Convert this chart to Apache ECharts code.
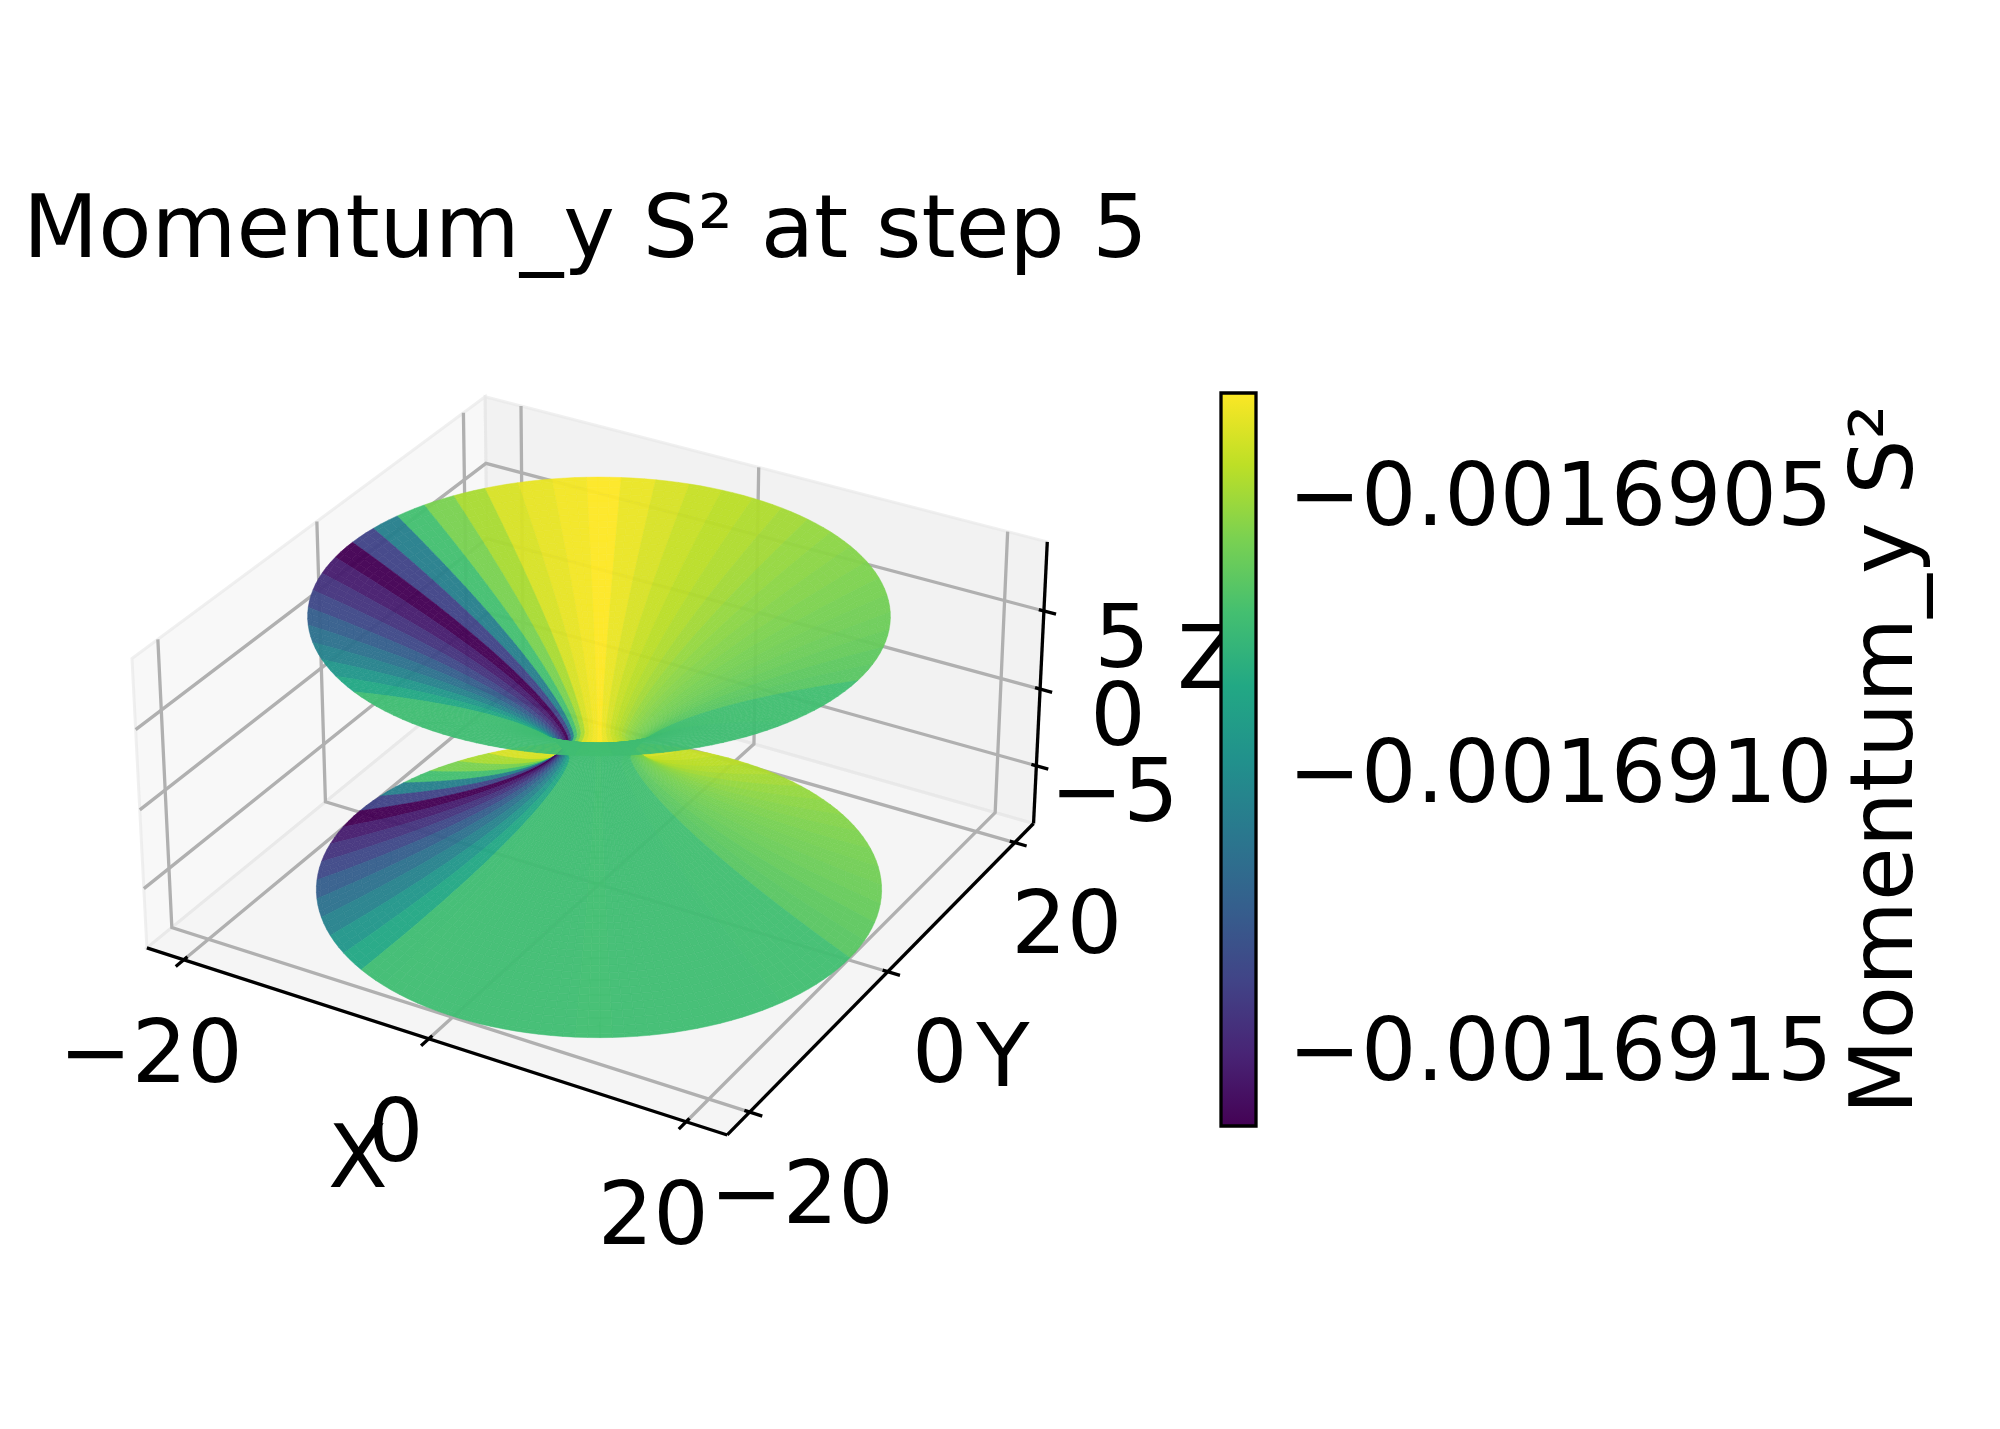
<!DOCTYPE html>
<html>
<head>
<meta charset="utf-8">
<style>
  html, body { margin: 0; padding: 0; background: #fff; }
  #chart { width: 2000px; height: 1429px; }
</style>
<script src="https://cdn.jsdelivr.net/npm/echarts@6/dist/echarts.min.js"></script>
</head>
<body>
<div id="chart"></div>
<script>
// Momentum_y per angular sector (sector 0 starts behind the throat, going left)
const sectorValues = [
  -0.001690338, -0.001690364, -0.001690397, -0.001690490, -0.001690582, -0.001690714, -0.001691071, -0.001691375,
  -0.001691639, -0.001691533, -0.001691441, -0.001691348, -0.001691243, -0.001691150, -0.001691058, -0.001690952,
  -0.001690846, -0.001690734, -0.001690727, -0.001690727, -0.001690727, -0.001690727, -0.001690727, -0.001690727,
  -0.001690721, -0.001690727, -0.001690727, -0.001690727, -0.001690727, -0.001690727, -0.001690721, -0.001690721,
  -0.001690721, -0.001690661, -0.001690648, -0.001690628, -0.001690615, -0.001690602, -0.001690589, -0.001690576,
  -0.001690563, -0.001690549, -0.001690529, -0.001690503, -0.001690477, -0.001690456, -0.001690430, -0.001690397,
  -0.001690358, -0.001690318
]
const firstSectorAngle = 122.6
const sectorStep = 7.2
const cellsPerSector = 3

// upper half of the surface, the lower half mirrors it
const ringHeight = [
  0, 0.2, 0.4, 0.6, 0.8, 1, 1.2, 1.4, 1.6, 1.8, 2, 2.2, 2.4, 2.6, 2.8, 3, 3.2, 3.4, 3.6, 3.8, 4, 4.2, 4.4,
  4.6, 4.8, 5, 5.2, 5.4, 5.6, 5.8, 6, 6.2, 6.4, 6.6, 6.8, 7, 7.2, 7.4, 7.6, 7.8, 8, 8.2, 8.4, 8.6, 8.7
]
const ringRadius = [
  2.5, 2.569, 2.69, 2.845, 3.027, 3.231, 3.456, 3.7, 3.96, 4.236, 4.527, 4.832, 5.15, 5.481, 5.824, 6.18,
  6.547, 6.923, 7.311, 7.71, 8.118, 8.536, 8.963, 9.4, 9.845, 10.299, 10.763, 11.235, 11.715, 12.203,
  12.7, 13.201, 13.714, 14.233, 14.76, 15.293, 15.835, 16.385, 16.938, 17.5, 18.067, 18.641, 19.228, 19.813, 20.1
]

const xTicks = [-20, 0, 20]
const yTicks = [-20, 0, 20]
const zTicks = [-5, 0, 5]
const xLim = [-23.1, 23.1]
const yLim = [-23.1, 23.1]
const zLim = [-8.82, 9.36]

const barMin = -0.001691639
const barMax = -0.001690318
const barTicks = [-0.0016915, -0.001691, -0.0016905]
const viridis = ['#440154', '#482475', '#414487', '#355f8d', '#2a788e', '#21918c', '#22a884', '#44bf70', '#7ad151', '#bddf26', '#fde725']

const FONT = '"DejaVu Sans"'
const LABEL_SIZE = 87.2
const GRID_COLOR = '#b0b0b0'
const LINE_W = 3.3

// same camera as a default mplot3d view: elev 30, azim -60, box aspect 1:1:0.5
const HALF_BOX = [0.635, 0.635, 0.3175]
const DIST = 10
const U = [0.8660254, 0.5, 0]
const V = [-0.25, 0.4330127, 0.8660254]
const W = [0.4330127, -0.75, 0.5]
const PIXEL_SCALE = 5190
const ORIGIN_X = 599
const ORIGIN_Y = 744

function boxPoint(x, y, z) {
  const nx = (x - (xLim[0] + xLim[1]) / 2) / ((xLim[1] - xLim[0]) / 2)
  const ny = (y - (yLim[0] + yLim[1]) / 2) / ((yLim[1] - yLim[0]) / 2)
  const nz = (z - (zLim[0] + zLim[1]) / 2) / ((zLim[1] - zLim[0]) / 2)
  return [nx * HALF_BOX[0], ny * HALF_BOX[1], nz * HALF_BOX[2]]
}
function dot(a, b) {
  return a[0] * b[0] + a[1] * b[1] + a[2] * b[2]
}
function depth(x, y, z) {
  return DIST - dot(boxPoint(x, y, z), W)
}
function project(x, y, z) {
  const q = boxPoint(x, y, z)
  const d = DIST - dot(q, W)
  return [dot(q, U) / d, dot(q, V) / d]
}

// rings from bottom rim to top rim
const rings = []
for (let i = ringHeight.length - 1; i > 0; i--) rings.push([-ringHeight[i], ringRadius[i]])
for (let i = 0; i < ringHeight.length; i++) rings.push([ringHeight[i], ringRadius[i]])

function cellCorners(column, ring) {
  const step = sectorStep / cellsPerSector
  const a0 = (firstSectorAngle + column * step) * Math.PI / 180
  const a1 = (firstSectorAngle + (column + 1) * step) * Math.PI / 180
  const lo = rings[ring]
  const hi = rings[ring + 1]
  return [
    [lo[1] * Math.cos(a0), lo[1] * Math.sin(a0), lo[0]],
    [lo[1] * Math.cos(a1), lo[1] * Math.sin(a1), lo[0]],
    [hi[1] * Math.cos(a1), hi[1] * Math.sin(a1), hi[0]],
    [hi[1] * Math.cos(a0), hi[1] * Math.sin(a0), hi[0]]
  ]
}

const cells = []
for (let s = 0; s < sectorValues.length; s++) {
  for (let k = 0; k < cellsPerSector; k++) {
    const column = s * cellsPerSector + k
    for (let r = 0; r < rings.length - 1; r++) {
      const c = cellCorners(column, r)
      const meanX = (c[0][0] + c[1][0] + c[2][0] + c[3][0]) / 4
      const meanY = (c[0][1] + c[1][1] + c[2][1] + c[3][1]) / 4
      const meanZ = (c[0][2] + c[1][2] + c[2][2] + c[3][2]) / 4
      cells.push([column, r, sectorValues[s], depth(meanX, meanY, meanZ)])
    }
  }
}
cells.sort((a, b) => b[3] - a[3])

const [x0, x1] = xLim
const [y0, y1] = yLim
const [z0, z1] = zLim
const panes = [
  { fill: 'rgba(242,242,242,0.5)', pts: [[x0, y0, z0], [x0, y1, z0], [x0, y1, z1], [x0, y0, z1]] },
  { fill: 'rgba(230,230,230,0.5)', pts: [[x0, y1, z0], [x1, y1, z0], [x1, y1, z1], [x0, y1, z1]] },
  { fill: 'rgba(236,236,236,0.5)', pts: [[x0, y0, z0], [x1, y0, z0], [x1, y1, z0], [x0, y1, z0]] }
]

const gridPaths = []
xTicks.forEach(t => gridPaths.push([[t, y0, z0], [t, y1, z0], [t, y1, z1]]))
yTicks.forEach(t => gridPaths.push([[x1, t, z0], [x0, t, z0], [x0, t, z1]]))
zTicks.forEach(t => gridPaths.push([[x0, y0, t], [x0, y1, t], [x1, y1, t]]))

const axisPaths = [
  [[x0, y0, z0], [x1, y0, z0]],
  [[x1, y0, z0], [x1, y1, z0]],
  [[x1, y1, z0], [x1, y1, z1]]
]
xTicks.forEach(t => axisPaths.push([[t, y0 + 0.45, z0], [t, y0 - 1, z0]]))
yTicks.forEach(t => axisPaths.push([[x1 - 0.4, t, z0], [x1 + 0.95, t, z0]]))
zTicks.forEach(t => axisPaths.push([[x1 - 0.4, y1, t], [x1 + 0.95, y1, t]]))

function tickText(v) {
  return v < 0 ? '\u2212' + Math.abs(v) : String(v)
}
const labels = []
xTicks.forEach(t => labels.push({ text: tickText(t), at: [t, y0, z0], dx: -33, dy: 100 }))
yTicks.forEach(t => labels.push({ text: tickText(t), at: [x1, t, z0], dx: 52, dy: 88 }))
zTicks.forEach(t => labels.push({ text: tickText(t), at: [x1, y1, t], dx: 78, dy: 33 }))
labels.push({ text: 'X', at: [0, y0, z0], dx: -71, dy: 126 })
labels.push({ text: 'Y', at: [x1, 0, z0], dx: 115, dy: 92 })
labels.push({ text: 'Z', at: [x1, y1, 0], dx: 167, dy: -24 })

function indexData(list) {
  return list.map((_, i) => [i, 0])
}
function coords(api, pts) {
  return pts.map(p => api.coord(project(p[0], p[1], p[2])))
}

const chart = echarts.init(document.getElementById('chart'), null, { renderer: 'canvas' })

chart.setOption({
  backgroundColor: '#fff',
  animation: false,
  tooltip: { show: false },
  title: {
    text: 'Momentum_y S\u00b2 at step 5',
    left: 18,
    top: 186,
    textStyle: { fontFamily: FONT, fontSize: 87.2, fontWeight: 'normal', color: '#000' }
  },
  grid: [
    { left: 0, right: 0, top: 0, bottom: 0 },
    { left: 1221, width: 35, top: 393, height: 733 }
  ],
  xAxis: [
    { gridIndex: 0, type: 'value', show: false, min: -ORIGIN_X / PIXEL_SCALE, max: (2000 - ORIGIN_X) / PIXEL_SCALE },
    { gridIndex: 1, type: 'value', show: false, min: 0, max: 1 }
  ],
  yAxis: [
    { gridIndex: 0, type: 'value', show: false, min: (ORIGIN_Y - 1429) / PIXEL_SCALE, max: ORIGIN_Y / PIXEL_SCALE },
    {
      gridIndex: 1,
      type: 'value',
      position: 'right',
      min: barMin,
      max: barMax,
      splitLine: { show: false },
      axisLine: { show: false },
      axisTick: { show: true, length: 14, customValues: barTicks, lineStyle: { color: '#000', width: LINE_W } },
      axisLabel: { show: false },
      name: 'Momentum_y S\u00b2',
      nameLocation: 'middle',
      nameGap: 590,
      nameTextStyle: { fontFamily: FONT, fontSize: LABEL_SIZE, color: '#000' }
    }
  ],
  series: [
    {
      type: 'custom',
      silent: true,
      z: 1,
      xAxisIndex: 0,
      yAxisIndex: 0,
      clip: false,
      data: indexData(panes),
      renderItem: (params, api) => {
        const pane = panes[api.value(0)]
        return {
          type: 'polygon',
          shape: { points: coords(api, pane.pts) },
          style: { fill: pane.fill, stroke: 'rgba(230,230,230,0.6)', lineWidth: 3 }
        }
      }
    },
    {
      type: 'custom',
      silent: true,
      z: 2,
      xAxisIndex: 0,
      yAxisIndex: 0,
      clip: false,
      data: indexData(gridPaths),
      renderItem: (params, api) => ({
        type: 'polyline',
        shape: { points: coords(api, gridPaths[api.value(0)]) },
        style: { fill: null, stroke: GRID_COLOR, lineWidth: LINE_W }
      })
    },
    {
      type: 'custom',
      silent: true,
      z: 3,
      xAxisIndex: 0,
      yAxisIndex: 0,
      clip: false,
      data: indexData(axisPaths),
      renderItem: (params, api) => ({
        type: 'polyline',
        shape: { points: coords(api, axisPaths[api.value(0)]) },
        style: { fill: null, stroke: '#000', lineWidth: LINE_W }
      })
    },
    {
      type: 'custom',
      silent: true,
      z: 4,
      xAxisIndex: 0,
      yAxisIndex: 0,
      clip: false,
      progressive: 0,
      data: cells,
      renderItem: (params, api) => {
        const t = (api.value(2) - barMin) / (barMax - barMin)
        const fill = echarts.color.lerp(t, viridis)
        return {
          type: 'polygon',
          shape: { points: coords(api, cellCorners(api.value(0), api.value(1))) },
          style: { fill: fill, stroke: fill, lineWidth: 0.5, opacity: 0.96 }
        }
      }
    },
    {
      type: 'custom',
      silent: true,
      z: 5,
      xAxisIndex: 0,
      yAxisIndex: 0,
      clip: false,
      data: indexData(labels),
      renderItem: (params, api) => {
        const item = labels[api.value(0)]
        const p = api.coord(project(item.at[0], item.at[1], item.at[2]))
        return {
          type: 'text',
          x: p[0] + item.dx,
          y: p[1] + item.dy,
          style: {
            text: item.text,
            font: LABEL_SIZE + 'px ' + FONT,
            fill: '#000',
            align: 'center',
            verticalAlign: 'middle'
          }
        }
      }
    },
    {
      type: 'custom',
      silent: true,
      z: 6,
      xAxisIndex: 1,
      yAxisIndex: 1,
      clip: false,
      data: [[0, barMin, 1, barMax]],
      renderItem: (params, api) => {
        const a = api.coord([api.value(0), api.value(1)])
        const b = api.coord([api.value(2), api.value(3)])
        return {
          type: 'rect',
          shape: { x: a[0], y: b[1], width: b[0] - a[0], height: a[1] - b[1] },
          style: {
            fill: new echarts.graphic.LinearGradient(0, 1, 0, 0, viridis.map((c, i) => ({ offset: i / (viridis.length - 1), color: c }))),
            stroke: '#000',
            lineWidth: LINE_W
          }
        }
      }
    },
    {
      // colorbar tick labels
      type: 'custom',
      silent: true,
      z: 6,
      xAxisIndex: 1,
      yAxisIndex: 1,
      clip: false,
      data: barTicks.map(v => [1, v]),
      renderItem: (params, api) => {
        const p = api.coord([api.value(0), api.value(1)])
        return {
          type: 'text',
          x: p[0] + 32,
          y: p[1] + 8,
          style: {
            text: '\u2212' + Math.abs(api.value(1)).toFixed(7),
            font: LABEL_SIZE + 'px ' + FONT,
            fill: '#000',
            align: 'left',
            verticalAlign: 'middle'
          }
        }
      }
    }
  ]
})
</script>
</body>
</html>
